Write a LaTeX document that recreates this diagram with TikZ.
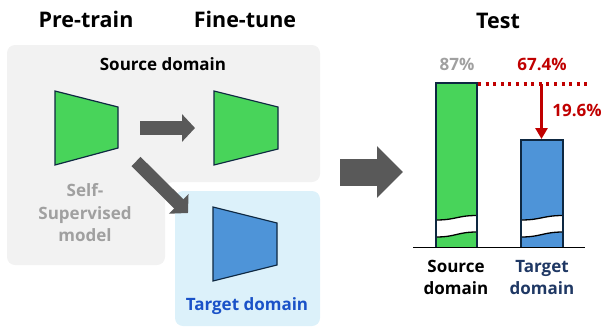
\documentclass[tikz,border=0pt]{standalone}
\usepackage{fontspec}
\setmainfont{Open Sans}
\usepackage{tikz}
\usetikzlibrary{arrows.meta}

\definecolor{encgreen}{RGB}{72,212,90}
\definecolor{encblue}{RGB}{78,148,216}
\definecolor{edgenavy}{RGB}{14,40,65}
\definecolor{arrowgray}{RGB}{89,89,89}
\definecolor{srcbg}{RGB}{242,242,242}
\definecolor{tgtbg}{RGB}{220,241,250}
\definecolor{softgray}{RGB}{160,160,160}
\definecolor{dropred}{RGB}{192,0,0}
\definecolor{tgtblue}{RGB}{26,82,200}
\definecolor{labelnavy}{RGB}{31,56,100}

\tikzset{
  title/.style={font=\bfseries\fontsize{21.5}{26}\selectfont, inner sep=0, anchor=base},
  txt/.style={font=\bfseries\fontsize{17}{22.5}\selectfont, inner sep=0, align=center},
  enc/.style={draw=edgenavy, line width=1.2pt, line join=miter},
  blockarrow/.style={arrowgray, line width=14pt, -{Triangle[length=13pt,width=27pt]}},
  bar/.style={draw=edgenavy, line width=1.3pt},
}

\begin{document}
\begin{tikzpicture}[x=1pt,y=-1pt]
\useasboundingbox (0,0) rectangle (605,327);

% panels
\fill[srcbg, rounded corners=8pt] (7,45) -- (320,45) -- (320,182) -- (165,182) -- (165,265) -- (7,265) -- cycle;
\fill[tgtbg, rounded corners=8pt] (175,191) rectangle (320,326);

% titles
\node[title] (pretrain) at (86,27) {Pre-train};
\node[title] (finetune) at (245,27) {Fine-tune};
\node[title] (test) at (498,28.3) {Test};

\node[txt, anchor=base] (srclabel) at (163,70.7) {Source domain};
\node[txt, softgray] (sslabel) at (85,213) {Self-\\Supervised\\model};
\node[txt, tgtblue, anchor=base] (tgtlabel) at (247,310) {Target domain};

% encoders
\filldraw[enc, fill=encgreen] (55,91) -- (118,107) -- (118,148) -- (55,165) -- cycle;
\filldraw[enc, fill=encgreen] (214,91) -- (278,107) -- (278,149) -- (214,165) -- cycle;
\filldraw[enc, fill=encblue] (213,207) -- (277,223) -- (277,265) -- (213,281) -- cycle;

% arrows between stages
\coordinate (pre-r) at (140,128);
\coordinate (ft-l) at (195,128);
\coordinate (pre-d) at (136,161.5);
\coordinate (tgt-l) at (188,213);
\coordinate (test-l) at (340,172);
\coordinate (test-r) at (403,172);
\draw[blockarrow] (pre-r) -- (ft-l);
\draw[blockarrow, line width=13pt] (pre-d) -- (tgt-l);
\draw[arrowgray, line width=27pt, -{Triangle[length=26pt,width=50pt]}] (test-l) -- (test-r);

% bars
\fill[encgreen] (436,83) rectangle (477,247);
\fill[encblue] (521,140) rectangle (563,247);
\foreach \xa/\xb in {436/477, 521/563} {
  \fill[white] (\xa,220) .. controls (\xa+20,220) and (\xb-20,215.5) .. (\xb,215.5)
    -- (\xb,232) .. controls (\xb-20,232) and (\xa+20,237) .. (\xa,237) -- cycle;
  \draw[line width=1.3pt] (\xa,220) .. controls (\xa+20,220) and (\xb-20,215.5) .. (\xb,215.5);
  \draw[line width=1.3pt] (\xa,237) .. controls (\xa+20,237) and (\xb-20,232) .. (\xb,232);
}
\draw[bar] (436,247) -- (436,83) -- (477,83) -- (477,247);
\draw[bar] (521,247) -- (521,140) -- (563,140) -- (563,247);
\coordinate (axis-l) at (413,247);
\coordinate (axis-r) at (585,247);
\draw[line width=1pt] (axis-l) -- (axis-r);

% drop
\coordinate (ref-l) at (478,84);
\coordinate (ref-r) at (587,84);
\coordinate (drop-top) at (541.5,84);
\coordinate (drop-bot) at (541.5,139);
\draw[dropred, line width=3.2pt, dash pattern=on 3pt off 4.6pt] (ref-l) -- (ref-r);
\draw[dropred, line width=3pt, -{Triangle[length=11pt,width=12pt]}] (drop-top) -- (drop-bot);

\node[txt, softgray, anchor=base] (srcacc) at (457,70) {87\%};
\node[txt, dropred, anchor=base] (tgtacc) at (542,70) {67.4\%};
\node[txt, dropred, anchor=base] (gap) at (577,116) {19.6\%};

\node[txt] (srcbar) at (456,277.5) {Source\\domain};
\node[txt, labelnavy] (tgtbar) at (542,277.5) {Target\\domain};
\end{tikzpicture}
\end{document}
